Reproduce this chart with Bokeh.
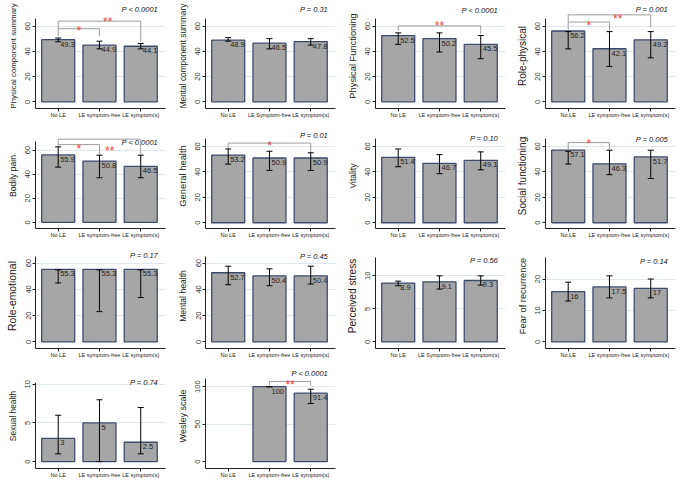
import math
from bokeh.plotting import figure
from bokeh.layouts import gridplot
from bokeh.models import ColumnDataSource, Whisker, TeeHead, FixedTicker, Range1d
from bokeh.embed import file_html
from bokeh.resources import INLINE
from bokeh.core.properties import value

# ---------------- data ----------------
categories = ["No LE", "LE symptom-free", "LE symptom(s)"]
categories_alt = ["No LE", "LE Symptom-free", "LE symptom(s)"]
alt_label_panels = [1, 10]

outcomes = ["Physical component summary", "Mental component summary", "Physical Functioning",
            "Role-physical", "Bodily pain", "General health", "Vitality", "Social functioning",
            "Role-emotional", "Mental health", "Perceived stress", "Fear of recurrence",
            "Sexual health", "Wesley scale"]

medians = [
    [49.3, 44.9, 44.1],
    [48.9, 46.5, 47.8],
    [52.5, 50.2, 45.5],
    [56.2, 42.1, 49.2],
    [55.9, 50.8, 46.5],
    [53.2, 50.9, 50.9],
    [51.4, 46.7, 49.1],
    [57.1, 46.3, 51.7],
    [55.3, 55.3, 55.3],
    [52.7, 50.4, 50.4],
    [8.9, 9.1, 9.3],
    [16, 17.5, 17],
    [3, 5, 2.5],
    [None, 100, 91.4],
]
err_low = [
    [47.6, 42.0, 42.0],
    [48.1, 42.0, 45.0],
    [45.6, 39.5, 34.2],
    [42.0, 28.1, 34.9],
    [45.8, 37.0, 37.0],
    [46.1, 41.1, 41.1],
    [44.0, 38.6, 41.6],
    [46.1, 37.8, 34.8],
    [44.9, 23.1, 33.8],
    [43.6, 42.8, 44.1],
    [8.5, 8.0, 8.6],
    [13, 14, 14],
    [1, 0, 1],
    [None, 100, 77.5],
]
err_high = [
    [50.6, 48.1, 46.3],
    [50.9, 50.1, 50.1],
    [54.7, 54.7, 52.6],
    [55.7, 55.7, 55.7],
    [62.6, 55.7, 55.7],
    [58.0, 56.2, 55.0],
    [58.0, 53.5, 55.7],
    [56.2, 57.0, 57.0],
    [54.9, 54.9, 54.9],
    [57.7, 55.7, 57.7],
    [9.2, 10.0, 10.0],
    [19, 21, 20],
    [6, 8, 7],
    [None, 100, 96.6],
]
p_labels = ["P < 0.0001", "P = 0.31", "P < 0.0001", "P = 0.001",
            "P < 0.0001", "P = 0.01", "P = 0.10", "P = 0.005",
            "P = 0.17", "P = 0.45", "P = 0.56", "P = 0.14",
            "P = 0.74", "P < 0.0001"]

# significance brackets: panel, group a, group b, stars
sig_panel = [0, 0, 2, 3, 3, 4, 4, 5, 7, 13]
sig_a = [0, 0, 0, 0, 0, 0, 0, 0, 0, 1]
sig_b = [1, 2, 2, 1, 2, 1, 2, 2, 1, 2]
sig_stars = ["*", "**", "**", "*", "**", "*", "**", "*", "*", "**"]

# ---------------- layout (positions / sizes) ----------------
y_ranges = [(-5.3, 78), (-5.3, 78), (-5.3, 78), (-5.3, 78),
            (-5.1, 82), (-4.5, 78), (-4.5, 78), (-4.5, 78),
            (-5, 75), (-5, 75), (-1, 14.9), (-2.1, 31.3),
            (-0.9, 12.7), (-9.3, 131)]
y_ticks = [[0, 20, 40, 60]] * 10 + [[0, 5, 10], [0, 10, 20], [0, 5, 10], [0, 50, 100]]
axis_top = [66, 66, 66, 66, 67, 66, 66, 66, 65, 65, 12.8, 27, 10.3, 111]
label_size = [7.9, 8.3, 9.3, 10, 8.6, 9.4, 8.5, 10, 10.4, 8.6, 10.1, 9.3, 8.3, 9]
p_y = [73, 73, 72.4, 73.4, 66.4, 68.8, 66.3, 65.5, 66, 65, 12.3, 25.6, 10.3, 118]
sig_line = [58, 64, 60.2, 63.3, 69, 64.5, 69, 62.6, 63, 107]
sig_leg_a = [52, 58, 56.4, 56.4, 63.3, 63, 64.5, 58, 57.5, 101.6]
sig_leg_b = [52, 47.6, 53.9, 56.4, 59, 56, 56, 55.5, 57.5, 101.6]
sig_star_x = [1.5, 2.2, 2.0, 1.5, 2.2, 1.5, 2.25, 2.0, 1.5, 2.5]
sig_star_y = [61.5, 68.5, 65.8, 65.8, 71, 66.5, 65.3, 65.6, 67.5, 111]

FONT = "Liberation Sans"
BAR_FILL = "#A6A6A6"
BAR_LINE = "#3E4C6C"
GRID = "#DCE8EC"

figs = []
for k in range(14):
    ys, ye = y_ranges[k]
    p = figure(width=170, height=120, x_range=Range1d(0.45, 3.6), y_range=Range1d(ys, ye),
               output_backend="svg", toolbar_location=None,
               min_border_left=35, min_border_right=5, min_border_top=3, min_border_bottom=0,
               outline_line_color=None, background_fill_color="white", border_fill_color="white")

    xs, tops, los, his, labs = [], [], [], [], []
    for i in range(3):
        v = medians[k][i]
        if v is None:
            continue
        xs.append(i + 1)
        tops.append(v)
        los.append(err_low[k][i])
        his.append(err_high[k][i])
        labs.append("%g" % v)
    src = ColumnDataSource(dict(x=xs, top=tops, lo=los, hi=his, lab=labs))

    p.vbar(x="x", top="top", bottom=0, width=0.8, source=src,
           fill_color=BAR_FILL, line_color=BAR_LINE, line_width=1.3)

    w = Whisker(base="x", lower="lo", upper="hi", source=src, line_color="black", line_width=1,
                upper_head=TeeHead(size=6, line_color="black", line_width=1),
                lower_head=TeeHead(size=6, line_color="black", line_width=1),
                level="annotation")
    p.add_layout(w)

    p.text(x="x", y="top", text="lab", source=src, text_font=value(FONT), text_font_size="7.5px",
           text_baseline="top", text_align="left", x_offset=2, y_offset=2, text_color="#222222")

    p.text(x=[3.42], y=[p_y[k]], text=[p_labels[k]], text_font=value(FONT),
           text_font_size="7.5px", text_font_style="italic", text_align="right",
           text_baseline="middle", text_color="#111111")

    for s in range(len(sig_panel)):
        if sig_panel[s] != k:
            continue
        xa = sig_a[s] + 1
        xb = sig_b[s] + 1
        h = sig_line[s]
        p.segment(x0=[xa, xa, xb], y0=[h, h, h], x1=[xb, xa, xb],
                  y1=[h, sig_leg_a[s], sig_leg_b[s]], line_color="#9C9C9C", line_width=1)
        p.text(x=[sig_star_x[s]], y=[sig_star_y[s]], text=[sig_stars[s]], text_font=value(FONT),
               text_font_size="12px", text_align="center", text_baseline="alphabetic",
               y_offset=7, text_color="#EE4444")

    labels = categories_alt if k in alt_label_panels else categories
    p.xaxis.ticker = FixedTicker(ticks=[1, 2, 3])
    p.xaxis.major_label_overrides = {1: labels[0], 2: labels[1], 3: labels[2]}
    p.xaxis.major_label_text_font = FONT
    p.xaxis.major_label_text_font_size = "5.5px"
    p.xaxis.major_label_text_color = "#222222"
    p.xaxis.major_label_standoff = 0
    p.xaxis.major_tick_out = 3
    p.xaxis.major_tick_in = 0
    p.xaxis.minor_tick_line_color = None
    p.xaxis.axis_line_color = "#222222"
    p.xaxis.major_tick_line_color = "#222222"

    p.yaxis.ticker = FixedTicker(ticks=y_ticks[k])
    p.yaxis.bounds = (ys, axis_top[k])
    p.yaxis.major_label_orientation = "vertical"
    p.yaxis.major_label_text_font = FONT
    p.yaxis.major_label_text_font_size = "7.5px"
    p.yaxis.major_label_text_color = "#333333"
    p.yaxis.major_label_standoff = 2
    p.yaxis.major_tick_out = 3
    p.yaxis.major_tick_in = 0
    p.yaxis.minor_tick_line_color = None
    p.yaxis.axis_line_color = "#222222"
    p.yaxis.major_tick_line_color = "#222222"
    p.yaxis.axis_label = outcomes[k]
    p.yaxis.axis_label_text_font = FONT
    p.yaxis.axis_label_text_font_size = "%gpx" % label_size[k]
    p.yaxis.axis_label_text_font_style = "normal"
    p.yaxis.axis_label_text_color = "#222222"
    p.yaxis.axis_label_standoff = 5

    p.xgrid.visible = False
    p.ygrid.ticker = FixedTicker(ticks=[t for t in y_ticks[k] if t != 0])
    p.ygrid.grid_line_color = GRID
    p.ygrid.grid_line_width = 1

    figs.append(p)

grid = gridplot(figs, ncols=4, toolbar_location=None)
open("out.html", "w").write(file_html(grid, INLINE))
